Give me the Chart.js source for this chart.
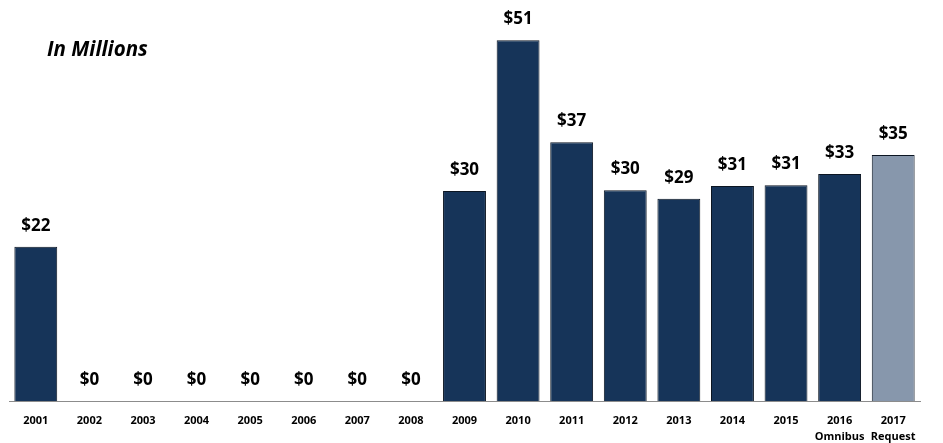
<!DOCTYPE html>
<html>
<head>
<meta charset="utf-8">
<script src="https://cdn.jsdelivr.net/npm/chart.js@4"></script>
<style>
  html, body { margin: 0; padding: 0; background: #fff; }
  #wrap { position: relative; width: 943px; height: 443px; }
  #note {
    position: absolute; left: 47px; top: 34px;
    font: italic bold 20.5px "Open Sans", sans-serif; color: #000;
  }
</style>
</head>
<body>
<div id="wrap">
  <canvas id="chart" width="943" height="443"></canvas>
  <div id="note">In Millions</div>
</div>
<script>
/* ---- Data ---- */
const years = ['2001', '2002', '2003', '2004', '2005', '2006', '2007', '2008', '2009',
  '2010', '2011', '2012', '2013', '2014', '2015', ['2016', 'Omnibus'], ['2017', 'Request']];
// bar heights (millions)
const funding = [21.8, 0, 0, 0, 0, 0, 0, 0, 29.7, 51, 36.6, 29.8, 28.6, 30.4, 30.5, 32.1, 34.8];
// printed labels above the bars
const valueText = ['$22', '$0', '$0', '$0', '$0', '$0', '$0', '$0', '$30',
  '$51', '$37', '$30', '$29', '$31', '$31', '$33', '$35'];
const yMax = 55;

const NAVY = '#163459';
const REQUEST = '#8797ac';

// value labels above each bar
const valueLabels = {
  id: 'valueLabels',
  afterDatasetsDraw(chart) {
    const { ctx } = chart;
    const meta = chart.getDatasetMeta(0);
    ctx.save();
    ctx.font = 'bold 17px "Open Sans", sans-serif';
    ctx.fillStyle = '#000';
    ctx.textAlign = 'center';
    ctx.textBaseline = 'middle';
    meta.data.forEach((bar, i) => {
      ctx.fillText(valueText[i], bar.x, bar.y - 21);
    });
    ctx.restore();
  }
};

new Chart(document.getElementById('chart'), {
  type: 'bar',
  data: {
    labels: years,
    datasets: [{
      data: funding,
      backgroundColor: funding.map((v, i) => i === funding.length - 1 ? REQUEST : NAVY),
      borderColor: '#0b1522',
      borderWidth: 1,
      borderSkipped: 'bottom',
      barPercentage: 0.8,
      categoryPercentage: 1.0,
    }]
  },
  options: {
    responsive: false,
    animation: false,
    layout: { padding: { left: 9, right: 23, top: 12, bottom: -6 } },
    plugins: { legend: { display: false }, tooltip: { enabled: false } },
    scales: {
      x: {
        grid: { display: false },
        border: { display: true, color: '#8c8c8c', width: 1 },
        ticks: {
          color: '#000',
          font: { family: 'Open Sans', size: 11, weight: 'bold', lineHeight: 1.45 },
          maxRotation: 0, autoSkip: false, padding: 4
        }
      },
      y: {
        display: false,
        min: 0, max: yMax,
      }
    }
  },
  plugins: [valueLabels]
});
</script>
</body>
</html>
